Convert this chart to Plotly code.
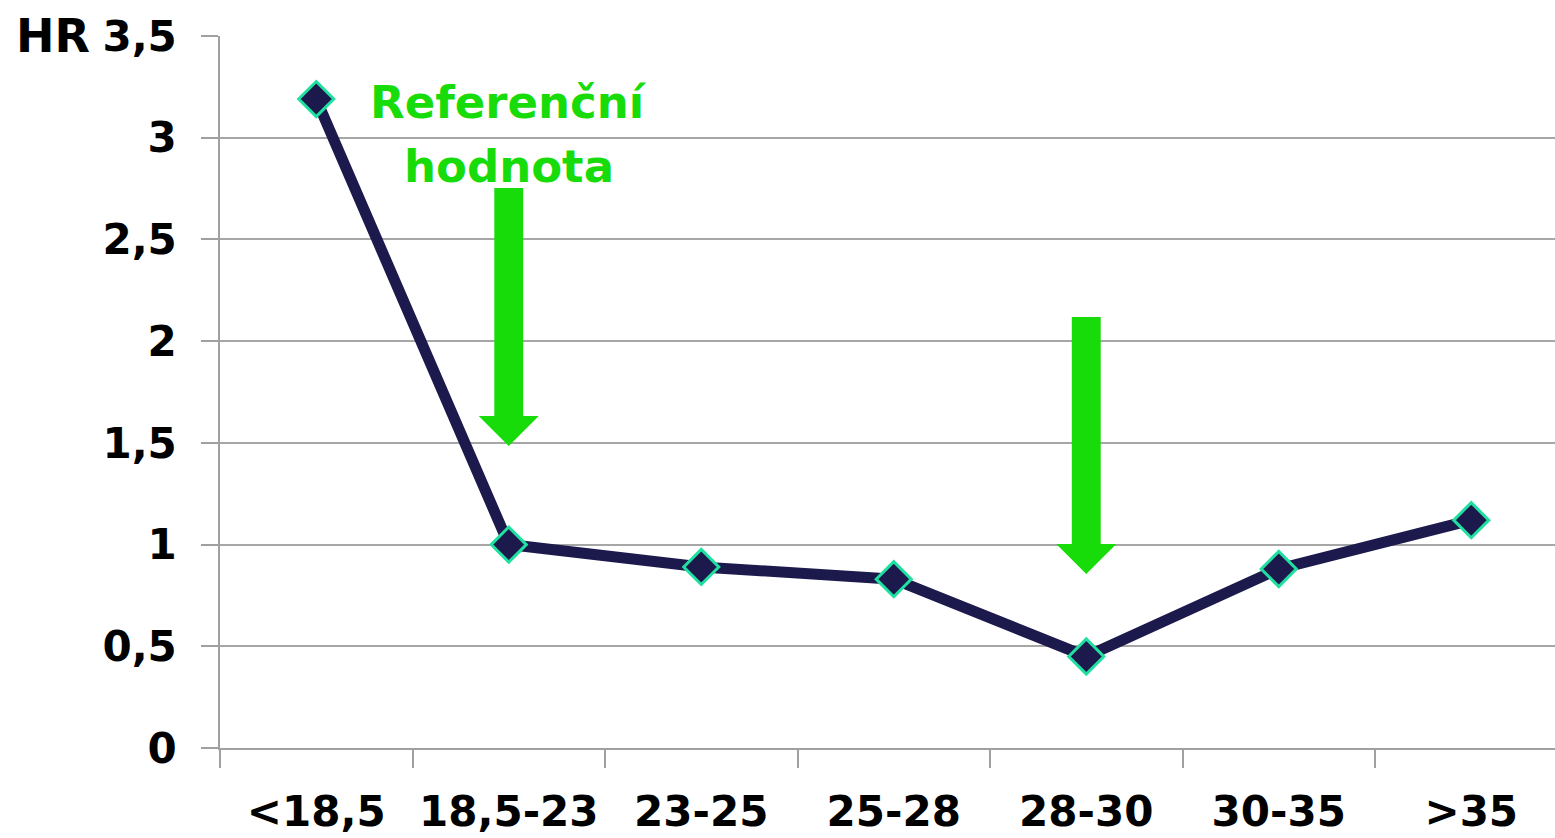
import plotly.graph_objects as go

# BMI categories and hazard ratios
categories = ['<18,5', '18,5-23', '23-25', '25-28', '28-30', '30-35', '>35']
hr_values = [3.19, 1.0, 0.89, 0.83, 0.45, 0.88, 1.12]
y_ticks = [0, 0.5, 1, 1.5, 2, 2.5, 3, 3.5]
y_labels = ['0', '0,5', '1', '1,5', '2', '2,5', '3', '3,5']

# arrows: (category index, top of shaft, end of shaft, tip)
arrows = [(1, 2.753, 1.632, 1.485), (4, 2.119, 1.003, 0.855)]

GREEN = '#18dc0a'
NAVY = '#1c1a4c'

fig = go.Figure()
fig.add_trace(go.Scatter(x=categories, y=hr_values,
                         mode='lines+markers',
                         line=dict(color=NAVY, width=11),
                         marker=dict(symbol='diamond', size=27, color=NAVY,
                                     line=dict(color='#1fe0a0', width=3)),
                         showlegend=False))

# green arrows as path shapes
shaft_hw = 0.075
head_hw = 0.156
for cx, top, mid, tip in arrows:
    path = (f'M {cx-shaft_hw},{top} L {cx+shaft_hw},{top} L {cx+shaft_hw},{mid} '
            f'L {cx+head_hw},{mid} L {cx},{tip} L {cx-head_hw},{mid} '
            f'L {cx-shaft_hw},{mid} Z')
    fig.add_shape(type='path', path=path, xref='x', yref='y',
                  fillcolor=GREEN, line=dict(width=0), layer='above')

# annotations
fig.add_annotation(x=1, y=3.175, xref='x', yref='y', text='Referenční',
                   showarrow=False, yanchor='middle',
                   font=dict(family='DejaVu Sans', size=45, color=GREEN, weight='bold'))
fig.add_annotation(x=1, y=2.86, xref='x', yref='y', text='hodnota',
                   showarrow=False, yanchor='middle',
                   font=dict(family='DejaVu Sans', size=45, color=GREEN, weight='bold'))
fig.add_annotation(x=-0.154, y=3.5, xref='paper', yref='y', text='HR',
                   showarrow=False, xanchor='left', yanchor='middle',
                   font=dict(family='DejaVu Sans', size=46, color='black', weight='bold'))

fig.update_xaxes(type='category', range=[-0.5, 6.435], automargin=False,
                 showline=True, linecolor='#a0a0a0', linewidth=1.5,
                 ticks='outside', tickson='boundaries', ticklen=18,
                 tickcolor='#a0a0a0', tickwidth=1.5,
                 showgrid=False, ticklabelstandoff=26,
                 tickfont=dict(family='DejaVu Sans', size=42, color='black', weight='bold'))
fig.update_yaxes(range=[0, 3.5], tickvals=y_ticks, ticktext=y_labels, automargin=False,
                 showline=True, linecolor='#a0a0a0', linewidth=1.5,
                 ticks='outside', ticklen=17, tickcolor='#a0a0a0', tickwidth=1.5,
                 showgrid=True, gridcolor='#a6a6a6', gridwidth=1.5,
                 zeroline=False, ticklabelstandoff=16,
                 tickfont=dict(family='DejaVu Sans', size=42, color='black', weight='bold'))

fig.update_layout(width=1555, height=838,
                  margin=dict(l=220, r=0, t=36, b=90),
                  plot_bgcolor='white', paper_bgcolor='white')

# remove the default page margin so the figure fills the window
fig.write_html('out.html',
               config={'displayModeBar': False},
               post_script="document.body.style.margin='0';"
                           "document.body.style.overflow='hidden';"
                           "Plotly.relayout('{plot_id}', {width: 1555, height: 838});")
